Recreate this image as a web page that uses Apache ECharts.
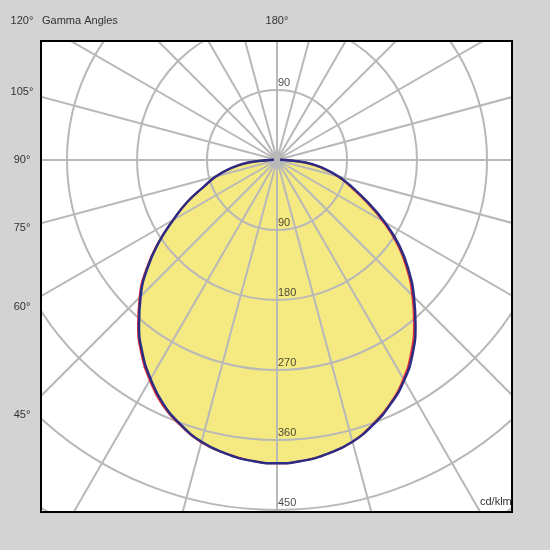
<!DOCTYPE html>
<html>
<head>
<meta charset="utf-8">
<script src="https://cdn.jsdelivr.net/npm/echarts@6/dist/echarts.min.js"></script>
<style>
    html, body { margin: 0; padding: 0; background: #d3d3d3; }
    #chart { width: 550px; height: 550px; }
</style>
</head>
<body>
<div id="chart"></div>
<script>
    // 伽马角 (负值 = 右半边)
    var gammaAngles = [-95, -90, -85, -80, -75, -70, -65, -60, -55, -50, -45, -40, -35, -30, -25, -20, -15, -10, -5,
        0, 5, 10, 15, 20, 25, 30, 35, 40, 45, 50, 55, 60, 65, 70, 75, 80, 85, 90, 95];
    // C90-C270 平面 (蓝)
    var intensityC90 = [4, 10, 37, 60, 82, 103, 129, 160, 192, 221, 249, 277, 304, 327, 346, 362, 375, 383, 388,
        390, 388, 383, 375, 362, 346, 325, 302, 276, 248, 218, 186, 154, 127, 100, 81, 60, 37, 10, 4];
    // C0-C180 平面 (红)
    var intensityC0 = [4, 10, 36, 59, 81, 101, 126, 157, 189, 218, 246, 274, 301, 325, 345, 361, 375, 383, 388,
        390, 388, 383, 376, 363, 348, 327, 304, 278, 250, 220, 187, 154, 127, 100, 81, 60, 37, 10, 4];
    var ringLabels = [90, 180, 270, 360, 450];
    var sideLabels = [120, 105, 90, 75, 60, 45];

    var center = [277, 160];
    var gridColor = '#b8b8b8';
    var frameColor = '#d3d3d3';
    var textFont = '11px "Liberation Sans", Arial, sans-serif';

    function toPolar(values) {
        return values.map(function (v, i) { return [v, gammaAngles[i]]; });
    }

    var ringData = ringLabels.map(function (v) { return [v, 0]; });
    ringData.push([90, 180]);

    var graphics = [
        // 外框灰色区域
        {type: 'rect', z: 10, shape: {x: 0, y: 0, width: 550, height: 41}, style: {fill: frameColor}},
        {type: 'rect', z: 10, shape: {x: 0, y: 512, width: 550, height: 38}, style: {fill: frameColor}},
        {type: 'rect', z: 10, shape: {x: 0, y: 0, width: 41, height: 550}, style: {fill: frameColor}},
        {type: 'rect', z: 10, shape: {x: 512, y: 0, width: 38, height: 550}, style: {fill: frameColor}},
        {type: 'rect', z: 11, shape: {x: 41, y: 41, width: 471, height: 471}, style: {fill: 'none', stroke: '#000', lineWidth: 2}},
        {type: 'text', z: 12, x: 42, y: 21, style: {text: 'Gamma Angles', font: textFont, fill: '#333', verticalAlign: 'middle'}},
        {type: 'text', z: 12, x: center[0], y: 21, style: {text: '180°', font: textFont, fill: '#333', align: 'center', verticalAlign: 'middle'}},
        {type: 'text', z: 12, x: 480, y: 502, style: {text: 'cd/klm', font: textFont, fill: '#333', verticalAlign: 'middle'}}
    ];
    // 左侧角度标签
    sideLabels.forEach(function (g) {
        var y = center[1] + (center[0] - 22) * Math.tan((90 - g) * Math.PI / 180);
        graphics.push({
            type: 'text', z: 12, x: 22, y: Math.max(y, 21),
            style: {text: g + '°', font: textFont, fill: '#333', align: 'center', verticalAlign: 'middle'}
        });
    });

    var myChart = echarts.init(document.getElementById('chart'));
    myChart.setOption({
        backgroundColor: '#fff',
        animation: false,
        polar: {center: center, radius: 490},
        angleAxis: {
            type: 'value', min: -180, max: 180, interval: 15, startAngle: 90, clockwise: true, z: 2,
            axisLine: {show: false}, axisTick: {show: false}, axisLabel: {show: false},
            splitLine: {show: true, lineStyle: {color: gridColor, width: 2}}
        },
        radiusAxis: {
            type: 'value', min: 0, max: 630, interval: 90, z: 2,
            axisLine: {show: false}, axisTick: {show: false}, axisLabel: {show: false},
            splitLine: {show: true, lineStyle: {color: gridColor, width: 2}}
        },
        graphic: graphics,
        series: [
            {
                type: 'line', coordinateSystem: 'polar', z: 1, smooth: 0.5, symbol: 'none',
                lineStyle: {width: 0}, areaStyle: {color: '#f5e982', opacity: 1},
                data: toPolar(intensityC90)
            },
            {
                type: 'line', coordinateSystem: 'polar', z: 3, smooth: 0.5, symbol: 'none',
                lineStyle: {color: '#e0303a', width: 2},
                data: toPolar(intensityC0)
            },
            {
                type: 'line', coordinateSystem: 'polar', z: 4, smooth: 0.5, symbol: 'none',
                lineStyle: {color: '#2b2d84', width: 2.5},
                data: toPolar(intensityC90)
            },
            {
                type: 'scatter', coordinateSystem: 'polar', z: 5, symbolSize: 0,
                label: {
                    show: true, position: 'right', distance: 1, offset: [0, -7],
                    color: '#222', fontSize: 11, fontFamily: '"Liberation Sans", Arial, sans-serif',
                    formatter: function (p) { return p.value[0]; }
                },
                data: ringData
            }
        ]
    });
</script>
</body>
</html>
